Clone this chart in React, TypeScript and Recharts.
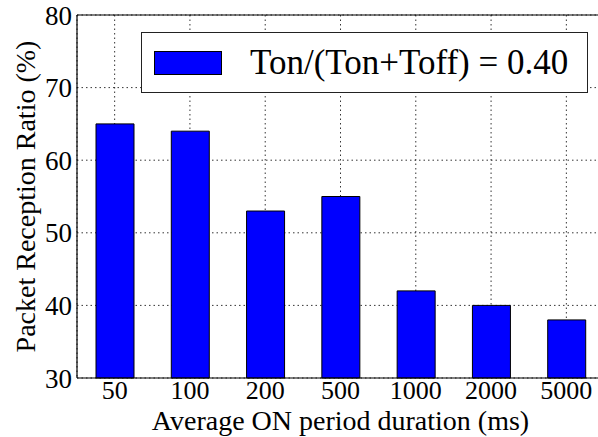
import { BarChart, Bar, XAxis, YAxis, CartesianGrid, ReferenceLine } from "recharts";

const durations = ["50", "100", "200", "500", "1000", "2000", "5000"];
const receptionRatio = [65, 64, 53, 55, 42, 40, 38];
const yTicks = [30, 40, 50, 60, 70, 80];
const seriesLabel = "Ton/(Ton+Toff) = 0.40";

const data = durations.map((d, i) => ({ duration: d, ratio: receptionRatio[i] }));

const FONT = "Liberation Serif, DejaVu Serif, serif";

// legend sits over the grid, drawn as a plain box on top of the svg
function LegendBox() {
  return (
    <div
      style={{
        position: "absolute",
        left: 141,
        top: 32,
        boxSizing: "border-box",
        width: 447,
        height: 61,
        border: "1.5px solid #222",
        background: "#fff",
        display: "flex",
        alignItems: "center",
        fontFamily: FONT,
        fontSize: 35,
        color: "#000",
      }}
    >
      <div
        style={{
          marginLeft: 12,
          width: 68,
          height: 24,
          boxSizing: "border-box",
          background: "#0000ff",
          border: "1px solid #000",
        }}
      />
      <span style={{ marginLeft: 28, whiteSpace: "nowrap" }}>{seriesLabel}</span>
    </div>
  );
}

export default function App() {
  return (
    <div
      style={{
        position: "absolute",
        left: 0,
        top: 0,
        width: 598,
        height: 437,
        overflow: "hidden",
        background: "#fff",
      }}
    >
      <BarChart
        width={610}
        height={437}
        data={data}
        margin={{ top: 15, right: 6, left: 0, bottom: 0 }}
        barSize={38}
      >
        <Bar
          dataKey="ratio"
          fill="#0000ff"
          stroke="#000"
          strokeWidth={1}
          isAnimationActive={false}
        />
        <CartesianGrid stroke="#000" strokeDasharray="1.5 3" strokeWidth={0.8} />
        <ReferenceLine y={80} stroke="#000" strokeWidth={1.2} />
        <XAxis
          dataKey="duration"
          height={59}
          tickLine={false}
          tickSize={0}
          tickMargin={3}
          axisLine={{ stroke: "#000", strokeWidth: 1.2 }}
          tick={{ fill: "#000", fontSize: 26, fontFamily: FONT }}
          label={{
            value: "Average ON period duration (ms)",
            position: "insideBottom",
            offset: 7,
            fill: "#000",
            fontSize: 28,
            fontFamily: FONT,
          }}
        />
        <YAxis
          width={77}
          domain={[30, 80]}
          ticks={yTicks}
          tickLine={false}
          tickSize={0}
          tickMargin={5}
          axisLine={{ stroke: "#000", strokeWidth: 1.2 }}
          tick={{ fill: "#000", fontSize: 27, fontFamily: FONT }}
          label={{
            value: "Packet Reception Ratio (%)",
            angle: -90,
            position: "insideLeft",
            offset: 25,
            fill: "#000",
            fontSize: 28,
            fontFamily: FONT,
            style: { textAnchor: "middle" },
          }}
        />
      </BarChart>
      <LegendBox />
    </div>
  );
}
